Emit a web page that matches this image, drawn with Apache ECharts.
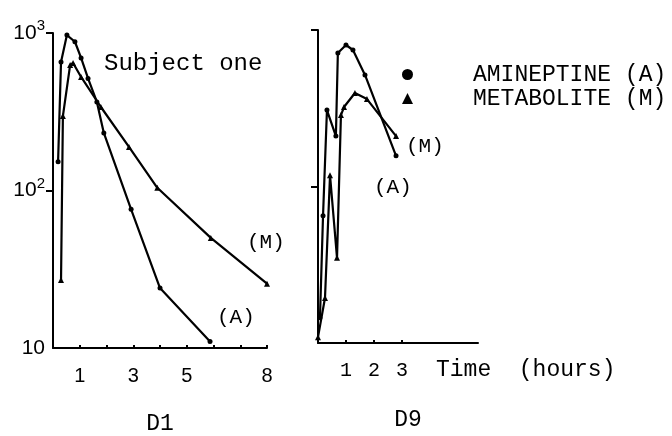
<!DOCTYPE html>
<html>
<head>
<meta charset="utf-8">
<script src="https://cdn.jsdelivr.net/npm/echarts@6/dist/echarts.min.js"></script>
<style>
  html, body { margin: 0; padding: 0; background: #fff; }
  #chart { width: 672px; height: 436px; }
</style>
</head>
<body>
<div id="chart"></div>
<script>
// plasma levels (log scale), time in hours
const d1AmineptineTimes = [0.19, 0.3, 0.52, 0.82, 1.05, 1.31, 1.64, 1.9, 2.92, 4.0, 5.87];
const d1Amineptine = [152, 655, 970, 880, 695, 515, 365, 232, 76, 24, 11];
const d1MetaboliteTimes = [0.3, 0.37, 0.64, 0.75, 1.05, 1.79, 2.84, 3.9, 5.9, 8];
const d1Metabolite = [27, 297, 626, 645, 526, 339, 189, 104, 50, 25.6];

const d9AmineptineTimes = [0.07, 0.18, 0.32, 0.64, 0.71, 1.0, 1.25, 1.68, 2.79];
const d9Amineptine = [14.5, 65, 308, 210, 713, 802, 745, 516, 157];
const d9MetaboliteTimes = [0, 0.25, 0.43, 0.68, 0.82, 0.93, 1.32, 1.75, 2.79];
const d9Metabolite = [10.9, 19.4, 118, 35, 286, 322, 396, 362, 210];

const d1TickHours = [1, 2, 3, 4, 5, 6, 7, 8];
const d1LabelHours = [1, 3, 5, 8];
const d9TickHours = [1, 2, 3];
const yTickValues = [100, 1000];

const MONO = "'Liberation Mono', 'DejaVu Sans Mono', monospace";
const SANS = "'Liberation Sans', Arial, sans-serif";

const pairs = (xs, ys) => xs.map((x, i) => [x, ys[i]]);

const axisLineStyle = { color: '#000', width: 2 };

function makeXAxis(grid, max, ticks, labels, font) {
  return {
    gridIndex: grid,
    type: 'value',
    min: 0,
    max: max,
    axisLine: { show: true, onZero: false, lineStyle: axisLineStyle },
    axisTick: { show: true, inside: true, length: 3, customValues: ticks, lineStyle: axisLineStyle },
    axisLabel: { customValues: labels, fontFamily: font, fontSize: 20, color: '#000', margin: 18 },
    splitLine: { show: false }
  };
}

function makeYAxis(grid, withLabels) {
  return {
    gridIndex: grid,
    type: 'log',
    logBase: 10,
    min: 10,
    max: 1000,
    axisLine: { show: true, onZero: false, lineStyle: axisLineStyle },
    axisTick: { show: true, length: 7, customValues: yTickValues, lineStyle: axisLineStyle },
    axisLabel: {
      show: withLabels,
      margin: 8,
      formatter: function (v) {
        if (v >= 999) return '{n|10}{s|3}';
        if (v >= 99) return '{n|10}{s|2}';
        return '{n|10}';
      },
      rich: {
        n: { fontFamily: SANS, fontSize: 21, color: '#000' },
        s: { fontFamily: SANS, fontSize: 15, color: '#000', padding: [0, 0, 14, 0] }
      }
    },
    splitLine: { show: false },
    minorTick: { show: false }
  };
}

function makeSeries(name, xi, times, values, symbol, size) {
  return {
    name: name,
    type: 'line',
    xAxisIndex: xi,
    yAxisIndex: xi,
    data: pairs(times, values),
    symbol: symbol,
    symbolSize: size,
    lineStyle: { color: '#000', width: 2.2 },
    itemStyle: { color: '#000' },
    emphasis: { disabled: true }
  };
}

function label(text, x, y, size, align) {
  return {
    type: 'text',
    x: x,
    y: y,
    style: {
      text: text,
      fill: '#000',
      font: size + 'px ' + MONO,
      align: align || 'left',
      verticalAlign: 'middle'
    }
  };
}

const chart = echarts.init(document.getElementById('chart'));
const option = {
  backgroundColor: '#fff',
  animation: false,
  grid: [
    { left: 53, top: 33, width: 214, height: 315, outerBoundsMode: 'none' },
    { left: 318, top: 30, width: 160, height: 313, outerBoundsMode: 'none' }
  ],
  xAxis: [
    makeXAxis(0, 8, d1TickHours, d1LabelHours, SANS),
    makeXAxis(1, 5.72, d9TickHours, d9TickHours, MONO)
  ],
  yAxis: [makeYAxis(0, true), makeYAxis(1, false)],
  legend: {
    orient: 'vertical',
    left: 397,
    top: 58,
    itemWidth: 11,
    itemHeight: 11,
    itemGap: 1,
    selectedMode: false,
    data: [
      { name: 'AMINEPTINE (A)', icon: 'circle' },
      { name: 'METABOLITE (M)', icon: 'triangle' }
    ],
    formatter: '{t|{name}}',
    textStyle: {
      rich: {
        t: { fontFamily: MONO, fontSize: 23, lineHeight: 23, color: '#000', padding: [0, 0, 0, 55] }
      }
    }
  },
  series: [
    makeSeries('AMINEPTINE (A)', 0, d1AmineptineTimes, d1Amineptine, 'circle', 5),
    makeSeries('METABOLITE (M)', 0, d1MetaboliteTimes, d1Metabolite, 'triangle', 6),
    makeSeries('AMINEPTINE (A)', 1, d9AmineptineTimes, d9Amineptine, 'circle', 5),
    makeSeries('METABOLITE (M)', 1, d9MetaboliteTimes, d9Metabolite, 'triangle', 6)
  ],
  graphic: [
    label('Subject one', 104, 64, 24),
    label('(M)', 247, 242, 21),
    label('(A)', 217, 317, 21),
    label('(M)', 406, 146, 21),
    label('(A)', 374, 187, 21),
    label('Time  (hours)', 436, 370, 23),
    label('D1', 160, 424, 23, 'center'),
    label('D9', 408, 420, 23, 'center')
  ]
};
chart.setOption(option);
</script>
</body>
</html>
